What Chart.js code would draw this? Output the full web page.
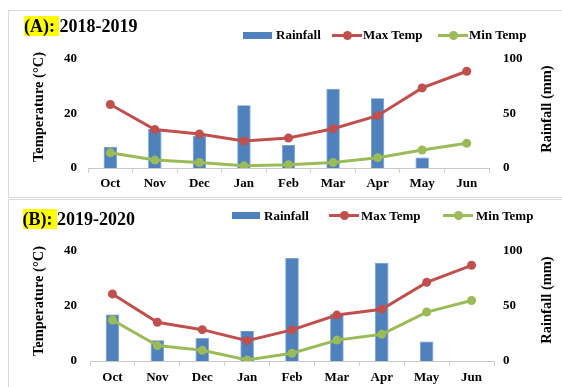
<!DOCTYPE html>
<html>
<head>
<meta charset="utf-8">
<script src="https://cdn.jsdelivr.net/npm/chart.js@4/dist/chart.umd.min.js"></script>
<style>
  html, body { margin: 0; padding: 0; background: #fff; }
  body { width: 562px; height: 387px; position: relative; overflow: hidden;
         font-family: 'Liberation Serif', 'Times New Roman', serif; font-weight: bold; color: #000; }
  .panel { position: absolute; left: 8px; border: 1px solid #d9d9d9; background: #fff; box-sizing: border-box; }
  .abs { position: absolute; white-space: nowrap; }
  .title { font-size: 18px; line-height: 20px; }
  .title .hl { background: #ffff00; }
  .leg { font-size: 13px; line-height: 15px; }
  .box { position: absolute; height: 7px; background: #4f81bd; }
  .ln { position: absolute; height: 3px; }
  .dot { position: absolute; width: 9px; height: 9px; border-radius: 50%; }
  .axt { font-size: 14.5px; line-height: 16px; transform: translate(-50%, -50%) rotate(-90deg); }
  canvas { position: absolute; left: 0; }
</style>
</head>
<body>
<div class="panel" style="top:10px; height:188px; width:570px;"></div>
<div class="panel" style="top:199px; height:200px; width:570px;"></div>

<canvas id="chartA" width="562" height="197" style="top:0; width:562px; height:197px;"></canvas>
<canvas id="chartB" width="562" height="187" style="top:200px; width:562px; height:187px;"></canvas>

<div id="overlay"></div>

<script>
// Months of the growing season
const months = ['Oct', 'Nov', 'Dec', 'Jan', 'Feb', 'Mar', 'Apr', 'May', 'Jun'];

// Season 2018-2019
const rainfallA = [19.4, 35.7, 29.5, 57.6, 21.2, 72.6, 64.0, 9.6, 0];
const maxTempA  = [23.3, 14.1, 12.5, 9.9, 11.0, 14.4, 19.2, 29.4, 35.5];
const minTempA  = [5.6, 2.9, 2.0, 0.8, 1.2, 2.0, 3.8, 6.6, 9.1];

// Season 2019-2020
const rainfallB = [42.3, 18.8, 21.2, 27.2, 93.7, 42.9, 89.4, 17.8, 0];
const maxTempB  = [24.4, 14.1, 11.4, 7.4, 11.3, 16.7, 18.8, 28.6, 34.8];
const minTempB  = [14.9, 5.6, 3.9, 0.4, 2.8, 7.6, 9.7, 17.8, 22.0];

// Axis ranges and labels
const tempTicks = [0, 20, 40];
const rainTicks = [0, 50, 100];
const panelTitles = ['(A): ', '(B): '];
const seasonTitles = ['2018-2019', '2019-2020'];
const seriesNames = ['Rainfall', 'Max Temp', 'Min Temp'];
const axisTitles = ['Temperature (°C)', 'Rainfall (mm)'];

const BLUE = '#4f81bd', RED = '#c0504d', GREEN = '#9bbb59';
const FONT = "'Liberation Serif', 'Times New Roman', serif";

function makeChart(id, rain, tmax, tmin, L) {
  const tickFont = { family: FONT, size: 13, weight: 'bold' };
  return new Chart(document.getElementById(id), {
    type: 'bar',
    data: {
      labels: months,
      datasets: [
        { type: 'bar', label: seriesNames[0], data: rain, yAxisID: 'y1', order: 3,
          backgroundColor: BLUE, borderColor: '#6a95c9', borderWidth: 0.8,
          barPercentage: 0.3, categoryPercentage: 1 },
        { type: 'line', label: seriesNames[1], data: tmax, yAxisID: 'y', order: 1,
          borderColor: RED, backgroundColor: RED, borderWidth: 3,
          pointRadius: 4.5, pointBackgroundColor: RED, pointBorderWidth: 0, tension: 0 },
        { type: 'line', label: seriesNames[2], data: tmin, yAxisID: 'y', order: 2,
          borderColor: GREEN, backgroundColor: GREEN, borderWidth: 3,
          pointRadius: 4.5, pointBackgroundColor: GREEN, pointBorderWidth: 0, tension: 0 }
      ]
    },
    options: {
      responsive: false,
      animation: false,
      layout: { padding: { top: L.top, left: 0, right: 0, bottom: 0 } },
      plugins: { legend: { display: false }, title: { display: false }, tooltip: { enabled: false } },
      scales: {
        x: {
          offset: true,
          grid: { display: true, offset: true, drawOnChartArea: false, drawTicks: true,
                  tickLength: 5, color: '#d0d0d0' },
          border: { display: true, color: '#c8c8c8', width: 1 },
          ticks: { font: tickFont, color: '#000', padding: L.xPad, maxRotation: 0 },
          afterFit: s => { s.height = L.xH; }
        },
        y: {
          position: 'left', min: 0, max: 40,
          afterBuildTicks: s => { s.ticks = tempTicks.map(v => ({ value: v })); },
          grid: { display: false, drawTicks: false },
          border: { display: false },
          ticks: { font: tickFont, color: '#000', padding: L.lPad },
          afterFit: s => { s.width = L.lW; }
        },
        y1: {
          position: 'right', min: 0, max: 100,
          afterBuildTicks: s => { s.ticks = rainTicks.map(v => ({ value: v })); },
          grid: { display: false, drawTicks: false },
          border: { display: false },
          ticks: { font: tickFont, color: '#000', padding: L.rPad },
          afterFit: s => { s.width = L.rW; }
        }
      }
    }
  });
}

makeChart('chartA', rainfallA, maxTempA, minTempA,
  { top: 59, xH: 29, xPad: 3, lW: 88, lPad: 11, rW: 73, rPad: 14 });
makeChart('chartB', rainfallB, maxTempB, minTempB,
  { top: 51, xH: 26, xPad: 4, lW: 90, lPad: 13, rW: 68, rPad: 9 });

// Titles, legends and axis titles drawn as page text
const overlay = document.getElementById('overlay');
function add(html) { overlay.insertAdjacentHTML('beforeend', html); }

const layouts = [
  { tx: 24, ty: 16, ly: 35, box: [243, 29], rt: 276, mx: [332, 30], mt: 363, nx: [438, 30], nt: 469,
    axY: 107, ax2Y: 108.5 },
  { tx: 22.5, ty: 209, ly: 215.7, box: [232, 28], rt: 264, mx: [329, 30], mt: 361, nx: [443, 30], nt: 476,
    axY: 301, ax2Y: 300 }
];

layouts.forEach((p, i) => {
  add(`<div class="abs title" style="left:${p.tx}px; top:${p.ty}px;"><span class="hl">${panelTitles[i]}</span>${seasonTitles[i]}</div>`);
  add(`<div class="box" style="left:${p.box[0]}px; top:${p.ly - 3.5}px; width:${p.box[1]}px;"></div>`);
  add(`<div class="abs leg" style="left:${p.rt}px; top:${p.ly - 8}px;">${seriesNames[0]}</div>`);
  [[p.mx, p.mt, RED, seriesNames[1]], [p.nx, p.nt, GREEN, seriesNames[2]]].forEach(([x, t, c, n]) => {
    add(`<div class="ln" style="left:${x[0]}px; top:${p.ly - 1.5}px; width:${x[1]}px; background:${c};"></div>`);
    add(`<div class="dot" style="left:${x[0] + x[1] / 2 - 4.5}px; top:${p.ly - 4.5}px; background:${c};"></div>`);
    add(`<div class="abs leg" style="left:${t}px; top:${p.ly - 8}px;">${n}</div>`);
  });
  add(`<div class="abs axt" style="left:37.5px; top:${p.axY}px;">${axisTitles[0]}</div>`);
  add(`<div class="abs axt" style="left:546px; top:${p.ax2Y}px;">${axisTitles[1]}</div>`);
});
</script>
</body>
</html>
